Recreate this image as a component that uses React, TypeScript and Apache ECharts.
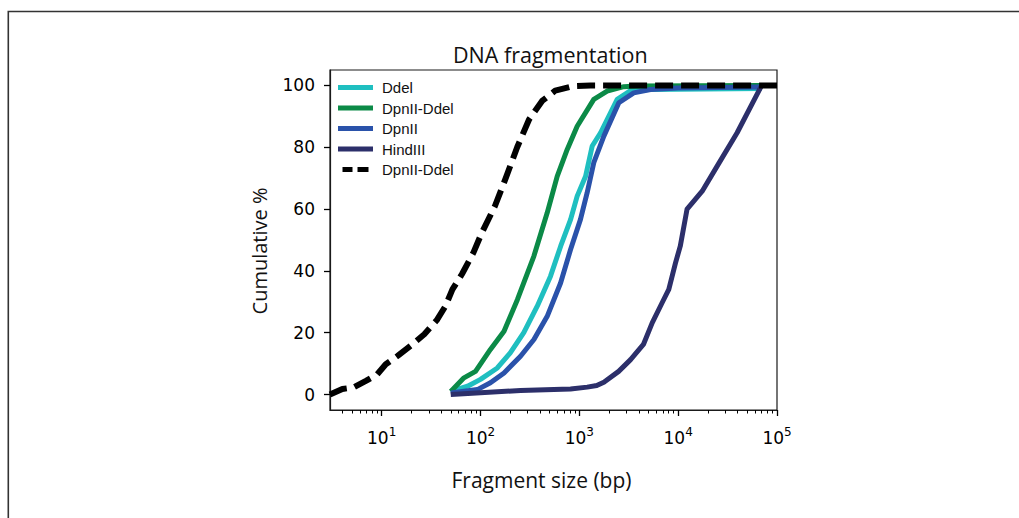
import React, { useEffect, useRef } from "react";
import * as echarts from "echarts";

// [fragment size (bp), cumulative %]
const ddel: [number, number][] = [
  [50, 1], [74, 2.7], [100, 4.9], [148, 8.6], [200, 13.5], [274, 20], [375, 28.6],
  [511, 38.3], [647, 48], [815, 56.6], [951, 64.2], [1157, 70.6], [1350, 80.4],
  [1640, 84.7], [2415, 95.5], [3300, 98.3], [5000, 98.7], [70000, 99],
];
const dpnDdel: [number, number][] = [
  [50, 1], [68, 5.4], [89, 7.5], [126, 14.6], [173, 20.5], [236, 30.7], [347, 44.8],
  [473, 58.8], [597, 70.6], [754, 79.3], [951, 86.8], [1400, 95.5], [1910, 98.2],
  [2820, 99.6], [3800, 99.8], [70000, 100],
];
const dpn: [number, number][] = [
  [50, 0.5], [93, 1.6], [126, 3.8], [173, 7], [254, 12.4], [347, 17.8], [473, 25.3],
  [646, 36.1], [815, 46.9], [1025, 56.6], [1200, 65.3], [1400, 75], [1770, 83.6],
  [2510, 94.4], [3550, 97.6], [5250, 98.7], [10000, 99.2], [70000, 99.5],
];
const hind: [number, number][] = [
  [50, 0], [100, 0.6], [254, 1.3], [815, 1.8], [1200, 2.4], [1500, 2.9], [1770, 4],
  [2500, 7.5], [3300, 11.3], [4450, 16.2], [5460, 23.2], [6880, 29.7], [8040, 34],
  [9400, 42.6], [10500, 48], [12300, 60], [17500, 65.8], [24800, 73.9], [39500, 84.7],
  [70000, 100],
];
const dpnDdelDashed: [number, number][] = [
  [3, 0], [4, 1.8], [5.2, 2.3], [7, 4.5], [9, 6.5], [11, 9.8], [14.5, 12.5], [20, 16],
  [27, 19.5], [36, 24], [44, 28.5], [52, 34], [65, 39], [85, 46], [102, 52], [140, 61],
  [180, 70], [235, 80], [310, 89], [420, 95], [570, 98.3], [870, 99.8], [1300, 100],
  [100000, 100],
];

const seriesNames = ["Ddel", "DpnII-Ddel", "DpnII", "HindIII", "DpnII-Ddel "];
const seriesColors = ["#1fbfc0", "#0b8a47", "#2a52aa", "#2c2f6a", "#000000"];
const seriesData = [ddel, dpnDdel, dpn, hind, dpnDdelDashed];

const xMin = 3;
const xMax = 100000;
const xMajorTicks = [10, 100, 1000, 10000, 100000];
const yTicks = [0, 20, 40, 60, 80, 100];

const lg = (v: number) => Math.log10(v);

function minorTicks(): number[] {
  const out: number[] = [];
  for (let d = 1; d < xMax; d *= 10) {
    for (let k = 2; k <= 9; k++) {
      const v = k * d;
      if (v > xMin && v < xMax) out.push(lg(v));
    }
  }
  return out;
}

export default function App() {
  const ref = useRef<HTMLDivElement>(null);
  useEffect(() => {
    if (!ref.current) return;
    const chart = echarts.init(ref.current, undefined, { renderer: "svg" });
    const tickFont = "DejaVu Sans";
    const titleFont = "Open Sans";
    const option: any = {
      animation: false,
      backgroundColor: "#ffffff",
      title: {
        text: "DNA fragmentation",
        left: 453,
        top: 43,
        padding: 0,
        textStyle: { fontFamily: titleFont, fontSize: 21.5, fontWeight: "normal", color: "#111" },
      },
      grid: {
        left: 330, top: 70, width: 447, height: 340,
        show: true, borderColor: "#1a1a1a", borderWidth: 1.2, backgroundColor: "transparent",
        outerBoundsMode: "none",
      },
      legend: {
        orient: "vertical",
        left: 338,
        top: 80,
        padding: 0,
        itemWidth: 35,
        itemHeight: 5,
        itemGap: 5.5,
        selectedMode: false,
        itemStyle: { borderWidth: 0 },
        textStyle: { fontFamily: "Liberation Sans", fontSize: 15, color: "#111", padding: [0, 0, 0, 4] },
        formatter: (name: string) => name.trim(),
        data: seriesNames.map((n, i) => ({
          name: n,
          icon: i === 4 ? "path://M0,0H10V5H0Z M15,0H26V5H15Z" : "rect",
        })),
      },
      xAxis: [
        {
          type: "value",
          min: lg(xMin),
          max: lg(xMax),
          position: "bottom",
          splitLine: { show: false },
          axisLine: { show: true, onZero: false, lineStyle: { color: "#1a1a1a", width: 1.2 } },
          axisTick: {
            show: true, length: 6, lineStyle: { color: "#000", width: 1.3 },
            customValues: xMajorTicks.map(lg),
          },
          axisLabel: {
            show: true,
            margin: 16,
            customValues: xMajorTicks.map(lg),
            formatter: (v: number) => `{b|10}{s|${Math.round(v)}}`,
            rich: {
              b: { fontFamily: tickFont, fontSize: 17, color: "#000", lineHeight: 20, verticalAlign: "bottom" },
              s: { fontFamily: tickFont, fontSize: 12, color: "#000", lineHeight: 9, verticalAlign: "top" },
            },
          },
        },
        {
          type: "value",
          min: lg(xMin),
          max: lg(xMax),
          position: "bottom",
          splitLine: { show: false },
          axisLine: { show: false, onZero: false },
          axisLabel: { show: false },
          axisTick: {
            show: true, length: 3.5, lineStyle: { color: "#000", width: 1 },
            customValues: minorTicks(),
          },
        },
      ],
      yAxis: {
        type: "value",
        min: -5,
        max: 105,
        splitLine: { show: false },
        axisLine: { show: true, onZero: false, lineStyle: { color: "#1a1a1a", width: 1.2 } },
        axisTick: { show: true, length: 6, lineStyle: { color: "#000", width: 1.3 }, customValues: yTicks },
        axisLabel: {
          margin: 15, fontFamily: tickFont, fontSize: 17, color: "#000", customValues: yTicks,
        },
      },
      graphic: [
        {
          type: "rect",
          silent: true,
          shape: { x: 8.3, y: 11.5, width: 1200, height: 700 },
          style: { fill: "none", stroke: "#333", lineWidth: 1.6 },
        },
        {
          type: "text",
          x: 541.5,
          y: 480,
          silent: true,
          style: {
            text: "Fragment size (bp)", fontFamily: titleFont, fontSize: 21, fill: "#111",
            align: "center", verticalAlign: "middle",
          },
        },
        {
          type: "text",
          x: 259,
          y: 251,
          rotation: Math.PI / 2,
          silent: true,
          style: {
            text: "Cumulative %", fontFamily: titleFont, fontSize: 20, fill: "#111",
            align: "center", verticalAlign: "middle",
          },
        },
      ],
      series: seriesData.map((pts, i) => ({
        name: seriesNames[i],
        type: "line",
        xAxisIndex: 0,
        yAxisIndex: 0,
        symbol: "none",
        showSymbol: false,
        color: seriesColors[i],
        data: pts.map(([x, y]) => [lg(x), y]),
        lineStyle: {
          width: i === 4 ? 6 : 5,
          color: seriesColors[i],
          type: i === 4 ? [18, 8] : "solid",
          cap: "butt",
          join: "round",
        },
        z: 2 + i,
      })),
    };
    chart.setOption(option);
    return () => chart.dispose();
  }, []);
  return (
    <div
      ref={ref}
      style={{ position: "fixed", left: 0, top: 0, width: 1019, height: 518, background: "#fff" }}
    />
  );
}
